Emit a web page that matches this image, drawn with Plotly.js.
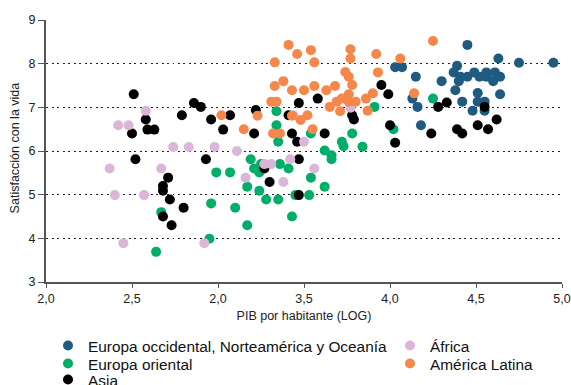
<!DOCTYPE html>
<html>
<head>
<meta charset="utf-8">
<script src="https://cdn.plot.ly/plotly-3.0.1.min.js"></script>
<style>
  html, body { margin: 0; padding: 0; background: #ffffff; }
  #chart { width: 571px; height: 385px; }
</style>
</head>
<body>
<div id="chart"></div>
<script>
// Log GDP per capita (x) and life satisfaction (y), one pair of arrays per region.
const westGdp = [4.45, 4.63, 4.75, 4.95, 4.03, 4.07, 4.15, 4.30, 4.39, 4.37, 4.41, 4.45, 4.49, 4.52, 4.56, 4.61,
  4.64, 4.60, 4.40, 4.38, 4.56, 4.51, 4.64, 4.13, 4.16, 4.42, 4.51, 4.55, 4.48, 4.55, 4.18];
const westSat = [8.43, 8.12, 8.02, 8.02, 7.92, 7.92, 7.70, 7.60, 7.95, 7.80, 7.70, 7.70, 7.80, 7.70, 7.80, 7.80,
  7.70, 7.60, 7.60, 7.39, 7.70, 7.33, 7.30, 7.20, 7.01, 7.13, 7.13, 7.13, 6.92, 6.92, 6.59];

const eastGdp = [2.64, 2.67, 2.95, 2.96, 2.99, 3.07, 3.10, 3.17, 3.17, 3.19, 3.21, 3.24, 3.24, 3.25, 3.28, 3.35,
  3.36, 3.41, 3.35, 3.43, 3.45, 3.53, 3.54, 3.62, 3.62, 3.66, 3.66, 3.72, 3.73, 3.84, 3.34, 3.34, 3.54, 3.78,
  3.91, 4.02, 4.25];
const eastSat = [3.69, 4.60, 3.99, 4.80, 5.51, 5.51, 4.70, 4.30, 5.18, 5.81, 5.60, 5.51, 5.09, 5.70, 4.89, 4.89,
  5.70, 5.60, 6.21, 4.50, 4.99, 4.99, 5.39, 5.18, 6.01, 5.90, 5.81, 6.21, 6.11, 6.10, 6.91, 6.59, 6.40, 6.40,
  7.01, 6.50, 7.20];

const asiaGdp = [2.51, 2.58, 2.50, 2.59, 2.63, 2.79, 2.86, 2.90, 2.96, 3.03, 3.07, 3.22, 3.21, 3.41, 3.47, 3.43,
  3.46, 2.52, 2.93, 2.71, 2.68, 2.68, 2.72, 2.80, 2.68, 2.73, 3.27, 3.30, 3.47, 3.47, 4.03, 3.58, 3.95, 3.99,
  3.78, 3.79, 3.62, 4.00, 4.24, 4.28, 4.33, 4.39, 4.42, 4.51, 4.55, 4.57, 4.62];
const asiaSat = [7.30, 6.72, 6.40, 6.49, 6.49, 6.82, 7.10, 7.01, 6.72, 6.49, 6.82, 6.94, 6.40, 6.82, 7.10, 6.40,
  6.21, 5.81, 5.81, 5.39, 5.20, 5.09, 4.89, 4.70, 4.50, 4.30, 5.60, 5.29, 5.81, 4.99, 6.19, 7.20, 7.51, 7.30,
  6.82, 6.72, 6.40, 6.59, 6.40, 7.01, 7.11, 6.50, 6.40, 6.59, 7.01, 6.50, 6.72];

const africaGdp = [2.42, 2.48, 2.58, 3.44, 2.37, 2.40, 2.45, 2.57, 2.67, 2.74, 2.83, 2.98, 3.11, 3.16, 2.92, 3.27,
  3.31, 3.38, 3.42, 3.50, 3.56, 3.77];
const africaSat = [6.59, 6.59, 6.92, 6.82, 5.60, 4.99, 3.89, 4.99, 5.60, 6.09, 6.09, 6.09, 6.00, 5.39, 3.89, 5.70,
  5.70, 5.29, 5.81, 6.21, 5.60, 6.99];

const latamGdp = [3.41, 3.46, 3.54, 3.77, 3.77, 3.92, 3.33, 3.56, 3.74, 3.76, 3.93, 3.38, 3.33, 3.43, 3.50, 3.56,
  3.63, 3.68, 3.78, 3.76, 3.72, 3.69, 3.90, 3.86, 3.80, 3.76, 3.31, 3.34, 3.65, 3.71, 3.87, 3.02, 3.23, 3.43,
  3.48, 3.52, 3.15, 3.32, 3.36, 3.55, 4.25, 4.06, 4.14];
const latamSat = [8.43, 8.22, 8.31, 8.33, 8.12, 8.22, 8.03, 8.03, 7.81, 7.70, 7.80, 7.60, 7.49, 7.39, 7.39, 7.49,
  7.39, 7.49, 7.51, 7.30, 7.20, 7.13, 7.32, 7.20, 7.13, 7.13, 7.13, 7.13, 7.01, 6.91, 6.92, 6.82, 6.81, 6.81,
  6.71, 6.82, 6.50, 6.40, 6.40, 6.50, 8.52, 8.12, 7.32];

const xTickVals = [2.0, 2.5, 3.0, 3.5, 4.0, 4.5, 5.0];
const xTickText = ['2,0', '2,5', '2,0', '3,5', '4,0', '4,5', '5,0'];
const yTickVals = [3, 4, 5, 6, 7, 8, 9];

const FONT = '"Liberation Sans", Arial, sans-serif';

function series(name, xs, ys, color, legendId) {
  return {
    type: 'scatter', mode: 'markers', name: name, x: xs, y: ys,
    legend: legendId,
    marker: { color: color, size: 10, line: { width: 0 } },
    hoverinfo: 'skip', cliponaxis: false
  };
}

// Draw order: orange and pink sit on top of the denser clusters.
const traces = [
  series('Europa occidental, Norteamérica y Oceanía', westGdp, westSat, '#1f5a80', 'legend'),
  series('Europa oriental', eastGdp, eastSat, '#00ad69', 'legend3'),
  series('Asia', asiaGdp, asiaSat, '#000000', 'legend5'),
  series('África', africaGdp, africaSat, '#dbb6d8', 'legend2'),
  series('América Latina', latamGdp, latamSat, '#f5874b', 'legend4')
];

// Two-column key laid out as five single-entry legends.
function key(col, row) {
  const left = [58, 400][col];
  const top = [329, 347, 363][row];
  return {
    xref: 'container', yref: 'container',
    x: left / 571, xanchor: 'left',
    y: 1 - top / 385, yanchor: 'top',
    indentation: -10,
    font: { family: FONT, size: 15.4, color: '#111' },
    bgcolor: 'rgba(0,0,0,0)', borderwidth: 0
  };
}

const layout = {
  width: 571, height: 385,
  margin: { l: 46, r: 9, t: 20, b: 103, autoexpand: false },
  paper_bgcolor: '#ffffff', plot_bgcolor: '#ffffff',
  font: { family: FONT, size: 12.5, color: '#222' },
  showlegend: true,
  legend: key(0, 0),
  legend2: key(1, 0),
  legend3: key(0, 1),
  legend4: key(1, 1),
  legend5: key(0, 2),
  xaxis: {
    range: [2, 5], tickvals: xTickVals, ticktext: xTickText,
    showgrid: false, zeroline: false,
    showline: true, linecolor: '#555', linewidth: 2,
    ticks: 'outside', ticklen: 4, tickcolor: '#555', tickwidth: 1,
    tickfont: { family: FONT, size: 12.5, color: '#222' },
    title: { text: 'PIB por habitante (LOG)', font: { family: FONT, size: 12.5, color: '#222' }, standoff: 6 }
  },
  yaxis: {
    range: [3, 9], tickvals: yTickVals,
    showgrid: true, gridcolor: '#222', gridwidth: 1, griddash: '2px,3.5px',
    zeroline: false,
    showline: true, linecolor: '#555', linewidth: 2,
    ticks: 'outside', ticklen: 6, tickcolor: '#555', tickwidth: 1,
    tickfont: { family: FONT, size: 12.5, color: '#222' }
  },
  // Vertical axis label, set beside the tick labels.
  annotations: [{
    text: 'Satisfacción con la vida', textangle: -90,
    xref: 'paper', yref: 'paper', x: (15 - 46) / 516, y: 0.51,
    xanchor: 'center', yanchor: 'middle', showarrow: false,
    font: { family: FONT, size: 12.5, color: '#222' }
  }]
};

Plotly.newPlot('chart', traces, layout, { displayModeBar: false, staticPlot: true });
</script>
</body>
</html>
